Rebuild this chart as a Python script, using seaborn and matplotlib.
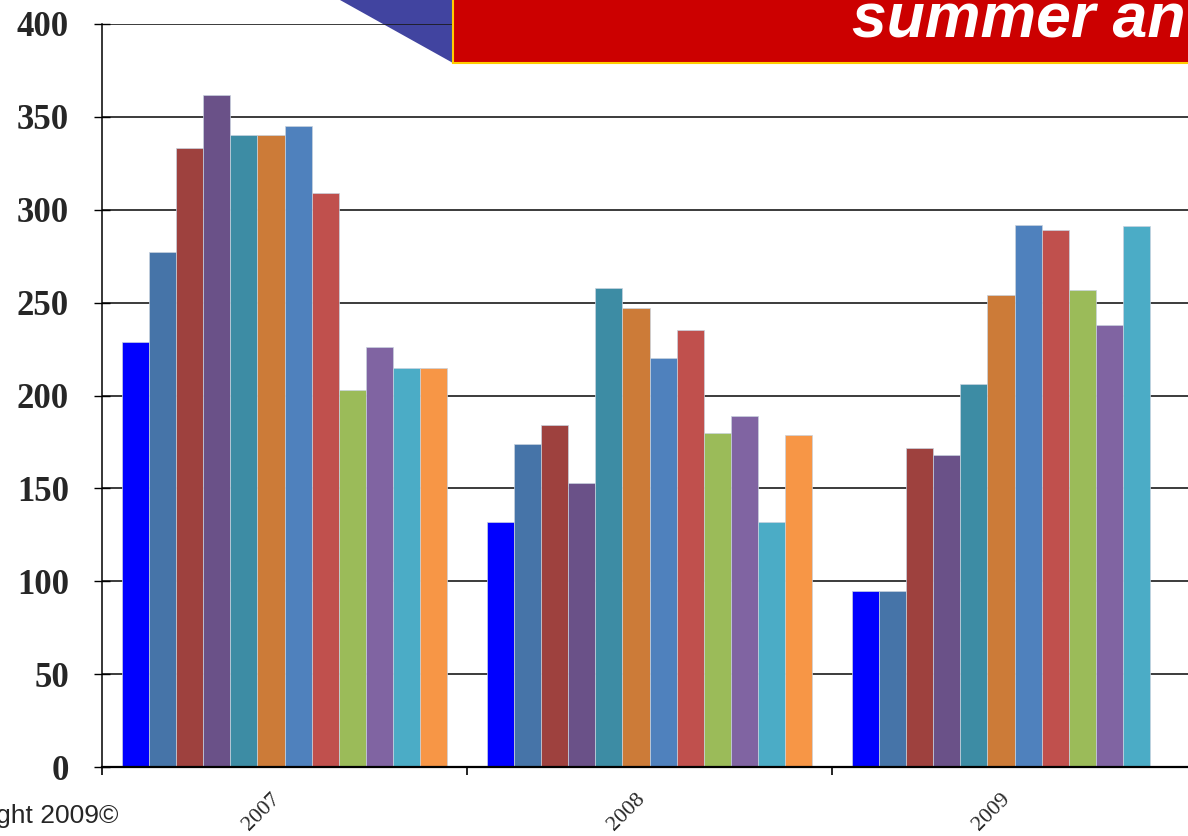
import pandas as pd
import numpy as np
import matplotlib
matplotlib.use('Agg')
import matplotlib.pyplot as plt
import seaborn as sns
from matplotlib.patches import Polygon, Rectangle

years = ['2007', '2008', '2009']
series = ['s1', 's2', 's3', 's4', 's5', 's6', 's7', 's8', 's9', 's10', 's11', 's12']
vals_2007 = [229, 277, 333, 362, 340, 340, 345, 309, 203, 226, 215, 215]
vals_2008 = [132, 174, 184, 153, 258, 247, 220, 235, 180, 189, 132, 179]
vals_2009 = [95, 95, 172, 168, 206, 254, 292, 289, 257, 238, 291, 0]
colors = ['#0000FF', '#4674A8', '#9E413E', '#6A5188', '#3D8CA4', '#CC7B38',
          '#4F81BD', '#C0504D', '#9BBB59', '#8064A2', '#4BACC6', '#F79646']
y_ticks = [0, 50, 100, 150, 200, 250, 300, 350, 400]

rows = []
for yr, vals in zip(years, [vals_2007, vals_2008, vals_2009]):
    for s, v in zip(series, vals):
        rows.append({'year': yr, 'series': s, 'value': v})
df = pd.DataFrame(rows)

sns.set_style('white')
fig = plt.figure(figsize=(11.88, 8.36), dpi=100)
W, H = 1188, 836
ax = fig.add_axes([102 / W, 1 - 767 / H, 1095 / W, 743 / H])
ax.patch.set_alpha(0)

sns.barplot(data=df, x='year', y='value', hue='series', hue_order=series,
            palette=colors, width=0.888, edgecolor='#c8d2de', linewidth=0.5,
            saturation=1, legend=False, ax=ax)

ax.set_xlim(-0.5, 2.5)
ax.set_ylim(0, 400)
ax.set_xlabel('')
ax.set_ylabel('')
ax.set_axisbelow(True)
ax.yaxis.grid(True, color='#1a1a1a', linewidth=1.2)
ax.set_yticks(y_ticks)
ax.set_yticklabels([str(t) for t in y_ticks], family='Liberation Serif',
                   fontweight='bold', fontsize=25)
ax.tick_params(axis='y', direction='inout', length=11.5, width=1, color='black',
               pad=18, left=True)

ax.set_xticks([0, 1, 2])
ax.set_xticklabels(years, family='Liberation Serif', fontsize=16,
                   rotation=45, ha='right')
ax.set_xticks([-0.5, 0.5, 1.5, 2.5], minor=True)
ax.tick_params(axis='x', which='major', length=0, pad=16)
ax.tick_params(axis='x', which='minor', direction='out', length=6, width=1.2,
               color='black', bottom=True)

for side in ['top', 'right']:
    ax.spines[side].set_visible(False)
ax.spines['left'].set_color('black')
ax.spines['left'].set_linewidth(1.1)
ax.spines['bottom'].set_color('black')
ax.spines['bottom'].set_linewidth(1.6)

# header decoration
tri = Polygon([[340 / W, 1.0], [453 / W, 1.0], [453 / W, 1 - 63 / H]],
              closed=True, transform=fig.transFigure, facecolor='#4144A0',
              edgecolor='none', zorder=-1)
fig.patches.append(tri)
box = Rectangle((453 / W, 1 - 63 / H), 800 / W, 70 / H, transform=fig.transFigure,
                facecolor='#CC0000', edgecolor='#FFCC00', linewidth=1.5, zorder=5)
fig.patches.append(box)
fig.text(1186 / W, 1 - 38 / H, 'summer an', color='white', fontsize=45,
         fontweight='bold', fontstyle='italic', family='Liberation Sans',
         ha='right', va='baseline', zorder=6)

fig.text(118 / W, 1 - 823 / H, 'Copyright 2009©', fontsize=19,
         family='Liberation Sans', ha='right', va='baseline')

fig.savefig('out.png', dpi=100)
